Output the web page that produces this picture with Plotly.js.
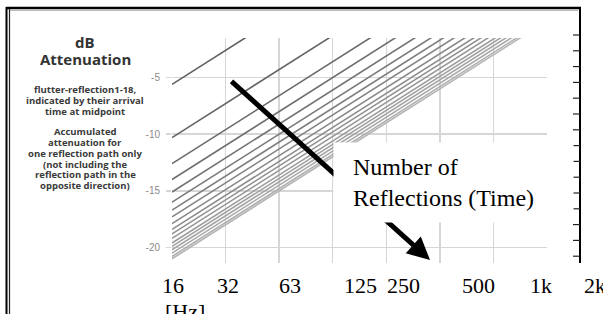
<!DOCTYPE html>
<html><head><meta charset="utf-8">
<script src="https://cdn.plot.ly/plotly-3.0.1.min.js"></script>
<style>html,body{margin:0;padding:0;background:#fff;overflow:hidden}#chart{width:603px;height:314px;}</style>
</head><body><div id="chart"></div><script>
// ---- data ----
const freqLabels = ['16','32','63','125','250','500','1k','2k'];
const r1  = [-5.6, -2.6, 0.4, 3.4, 6.4, 9.4, 12.4, 15.4];
const r2  = [-10.3, -7.3, -4.3, -1.3, 1.7, 4.7, 7.7, 10.7];
const r3  = [-12.6, -9.6, -6.6, -3.6, -0.6, 2.4, 5.4, 8.4];
const r4  = [-14.0, -11.0, -8.0, -5.0, -2.0, 1.0, 4.0, 7.0];
const r5  = [-15.1, -12.1, -9.1, -6.1, -3.1, -0.1, 2.9, 5.9];
const r6  = [-16.0, -13.0, -10.0, -7.0, -4.0, -1.0, 2.0, 5.0];
const r7  = [-16.7, -13.7, -10.7, -7.7, -4.7, -1.7, 1.3, 4.3];
const r8  = [-17.3, -14.3, -11.3, -8.3, -5.3, -2.3, 0.7, 3.7];
const r9  = [-17.9, -14.9, -11.9, -8.9, -5.9, -2.9, 0.1, 3.1];
const r10 = [-18.4, -15.4, -12.4, -9.4, -6.4, -3.4, -0.4, 2.6];
const r11 = [-18.8, -15.8, -12.8, -9.8, -6.8, -3.8, -0.8, 2.2];
const r12 = [-19.2, -16.2, -13.2, -10.2, -7.2, -4.2, -1.2, 1.8];
const r13 = [-19.6, -16.6, -13.6, -10.6, -7.6, -4.6, -1.6, 1.4];
const r14 = [-19.9, -16.9, -13.9, -10.9, -7.9, -4.9, -1.9, 1.1];
const r15 = [-20.2, -17.2, -14.2, -11.2, -8.2, -5.2, -2.2, 0.8];
const r16 = [-20.5, -17.5, -14.5, -11.5, -8.5, -5.5, -2.5, 0.5];
const r17 = [-20.8, -17.8, -14.8, -11.8, -8.8, -5.8, -2.8, 0.2];
const r18 = [-21.0, -18.0, -15.0, -12.0, -9.0, -6.0, -3.0, 0.0];
const yTickVals = [-5, -10, -15, -20];
const yTickText = ['-5', '-10', '-15', '-20'];
const titleLines = ['dB', 'Attenuation'];
const noteLines = ['flutter-reflection1-18,', 'indicated by their arrival', 'time at midpoint',
  'Accumulated', 'attenuation for', 'one reflection path only', '(not including the',
  'reflection path in the', 'opposite direction)'];
const boxText = 'Number of<br>Reflections (Time)';
const unitText = '[Hz]';

// ---- layout helpers (pixel -> paper) ----
const L = 172, R = 547, T = 38, B = 263;
const xp = p => (p - L) / (R - L);
const yp = p => (B - p) / (B - T);

const series = [r1,r2,r3,r4,r5,r6,r7,r8,r9,r10,r11,r12,r13,r14,r15,r16,r17,r18];
const traces = series.map((vals, i) => {
  const g = Math.round(95 + (180 - 95) * i / (series.length - 1));
  return {x: freqLabels, y: vals, type: 'scatter', mode: 'lines',
    line: {color: `rgb(${g},${g},${g})`, width: 1.6}, hoverinfo: 'skip', showlegend: false};
});

const ann = [];
// arrow (drawn first, under the text box)
ann.push({xref:'paper', yref:'paper', x: xp(430), y: yp(260), ax: -200, ay: -180,
  text: '', showarrow: true, arrowhead: 2, arrowsize: 0.9, arrowwidth: 5, arrowcolor: '#000', standoff: 0});
// white text box
ann.push({xref:'paper', yref:'paper', x: xp(333), y: yp(142), xanchor:'left', yanchor:'top',
  text: '&nbsp;', showarrow:false, width: 239, height: 79, bgcolor:'#fff', borderpad:0,
  font:{size:10}});
ann.push({xref:'paper', yref:'paper', x: xp(351), y: yp(182), xanchor:'left', yanchor:'middle',
  text: boxText, align:'left', showarrow:false,
  font:{family:'Liberation Serif, Times New Roman, serif', size:24, color:'#000'}});
// x tick labels (overlay text)
const xLabelPx = [173, 228, 290, 360, 403, 478, 541, 595];
freqLabels.forEach((t, i) => ann.push({xref:'paper', yref:'paper', x: xp(xLabelPx[i]), y: yp(285),
  xanchor:'center', yanchor:'middle', text: t, showarrow:false,
  font:{family:'Liberation Serif, Times New Roman, serif', size:22, color:'#000'}}));
ann.push({xref:'paper', yref:'paper', x: xp(163), y: yp(297), xanchor:'left', yanchor:'top',
  text: unitText, showarrow:false,
  font:{family:'Liberation Serif, Times New Roman, serif', size:22, color:'#000'}});
// left panel text
const titleY = [42, 59];
titleLines.forEach((t, i) => ann.push({xref:'paper', yref:'paper', x: xp(85), y: yp(titleY[i]),
  xanchor:'center', yanchor:'middle', text: '<b>' + t + '</b>', showarrow:false,
  font:{family:'Open Sans, Liberation Sans, sans-serif', size:15, color:'#333'}}));
const noteY = [89, 100, 111, 131, 142, 153, 164, 174, 185];
noteLines.forEach((t, i) => ann.push({xref:'paper', yref:'paper', x: xp(85), y: yp(noteY[i]),
  xanchor:'center', yanchor:'middle', text: '<b>' + t + '</b>', showarrow:false,
  font:{family:'Open Sans, Liberation Sans, sans-serif', size:9.5, color:'#3a3a3a'}}));

// frame shapes
const shapes = [];
const line = (x0,y0,x1,y1,c,w) => shapes.push({type:'line', xref:'paper', yref:'paper',
  x0: xp(x0), y0: yp(y0), x1: xp(x1), y1: yp(y1), line:{color:c, width:w}});
line(6, 8, 581, 8, '#000', 2.5);
line(9, 10.5, 578, 10.5, '#bbb', 1);
line(6.5, 7, 6.5, 314, '#000', 2);
line(9.5, 9, 9.5, 314, '#222', 1.2);
line(580, 7, 580, 263, '#000', 2);
for (let k = 0; k < 15; k++) { const y = 35 + 15.8 * k; line(573, y, 580, y, '#222', 1.2); }

const layout = {
  width: 603, height: 314,
  margin: {l: L, r: 603 - R, t: T, b: 314 - B, pad: 0},
  paper_bgcolor: '#fff', plot_bgcolor: '#fff',
  showlegend: false,
  xaxis: {type:'category', range:[0, 7], showgrid:true, gridcolor:'#d6d6d6', gridwidth:1.5,
    showticklabels:false, ticks:'', zeroline:false, showline:false, fixedrange:true},
  yaxis: {range:[-21.37, -1.51], tickvals: yTickVals, ticktext: yTickText, showgrid:true,
    gridcolor:'#d6d6d6', gridwidth:1.5, ticks:'outside', ticklen:5, tickcolor:'#d6d6d6', tickwidth:1.5,
    ticklabelstandoff: 4,
    zeroline:false, showline:false, fixedrange:true,
    tickfont:{family:'Liberation Sans, Arial, sans-serif', size:10, color:'#8a8a8a'}},
  annotations: ann,
  shapes: shapes
};
Plotly.newPlot('chart', traces, layout, {staticPlot:true, displayModeBar:false});
</script></body></html>
